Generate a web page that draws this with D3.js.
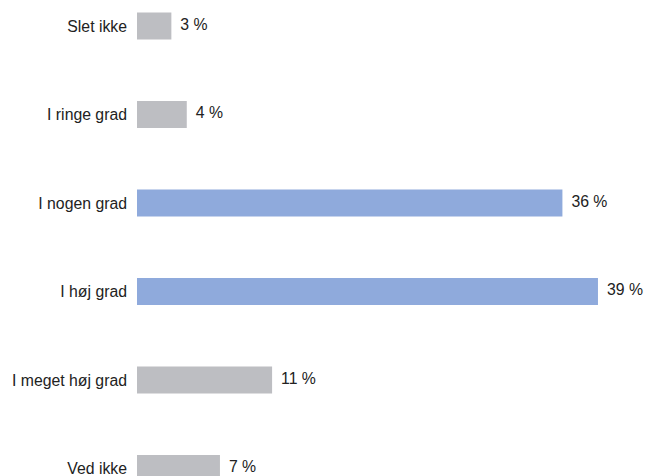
<!DOCTYPE html>
<html>
<head>
<meta charset="utf-8">
<script src="https://cdn.jsdelivr.net/npm/d3@7"></script>
<style>
  body { margin: 0; background: #fff; }
  text { font-family: "Liberation Sans", Arial, sans-serif; fill: #222; }
</style>
</head>
<body>
<script>
var width = 645, height = 476;

// data
var categories = ["Slet ikke", "I ringe grad", "I nogen grad", "I høj grad", "I meget høj grad", "Ved ikke"];
var values = [2.9, 4.2, 35.9, 38.9, 11.4, 7.0];
var labels = ["3 %", "4 %", "36 %", "39 %", "11 %", "7 %"];
var highlight = [false, false, true, true, false, false];

var data = categories.map(function (c, i) {
  return { cat: c, value: values[i], label: labels[i], hi: highlight[i] };
});

var svg = d3.select("body").append("svg")
  .attr("width", width)
  .attr("height", height);

var x = d3.scaleLinear().domain([0, 40]).range([137, 611]);

var pad = 1 - 27 / 88.5;
var y = d3.scaleBand()
  .domain(categories)
  .range([-18.25, -18.25 + 6 * 88.5])
  .paddingInner(pad)
  .paddingOuter(pad / 2);

var rows = svg.selectAll("g.row")
  .data(data)
  .enter().append("g")
  .attr("class", "row");

rows.append("rect")
  .attr("x", x(0))
  .attr("y", function (d) { return y(d.cat); })
  .attr("width", function (d) { return x(d.value) - x(0); })
  .attr("height", y.bandwidth())
  .attr("fill", function (d) { return d.hi ? "#8faadc" : "#bdbec2"; });

rows.append("text")
  .attr("x", x(0) - 10)
  .attr("y", function (d) { return y(d.cat) + y.bandwidth() / 2; })
  .attr("dy", "0.35em")
  .attr("text-anchor", "end")
  .style("font-size", "15.8px")
  .text(function (d) { return d.cat; });

rows.append("text")
  .attr("x", function (d) { return x(d.value) + 9; })
  .attr("y", function (d) { return y(d.cat) + y.bandwidth() / 2 - 2; })
  .attr("dy", "0.35em")
  .style("font-size", "15.8px")
  .text(function (d) { return d.label; });
</script>
</body>
</html>
